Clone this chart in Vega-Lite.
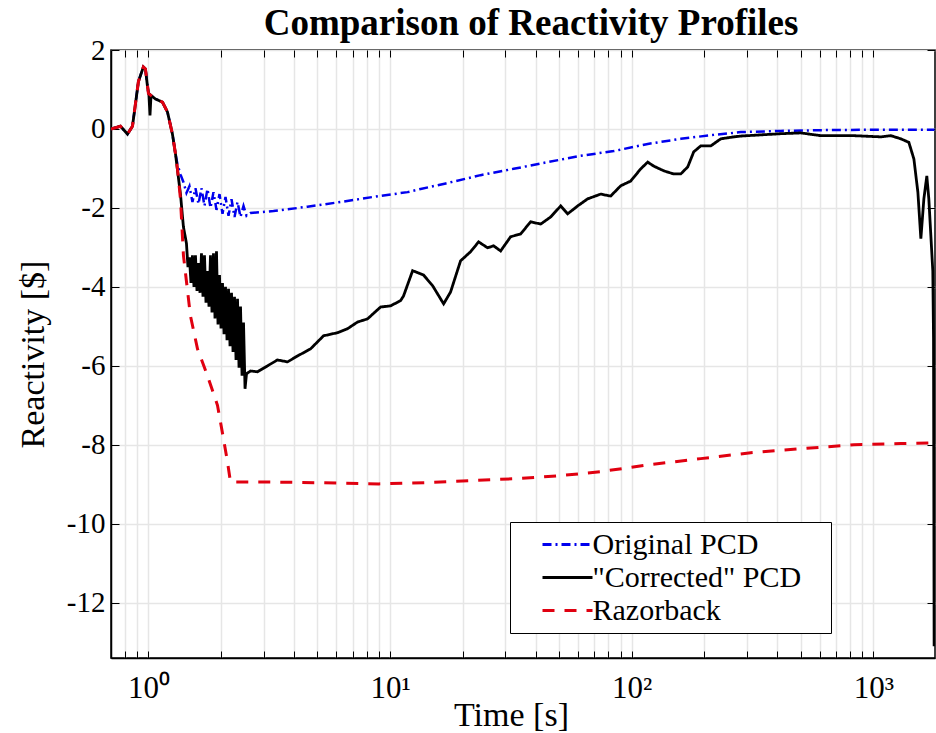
{
 "$schema": "https://vega.github.io/schema/vega-lite/v6.json",
 "width": 824, "height": 608,
 "autosize": {"type": "none"},
 "padding": {"left": 111, "top": 50, "right": 1, "bottom": 75},
 "background": "white",
 "title": {"text": "Comparison of Reactivity Profiles", "font": "Liberation Serif", "fontSize": 37, "fontWeight": "bold", "color": "black", "offset": 10, "dx": 8, "dy": 17},
 "config": {"view": {"stroke": "black", "strokeWidth": 1.5}},
 "datasets": {
  "o": [
   {"t":0.7,"r":0},{"t":0.766,"r":0.07},{"t":0.819,"r":-0.13},{"t":0.859,"r":0.07},{"t":0.909,"r":1.2},{"t":0.953,"r":1.57},{"t":0.972,"r":1.52},{"t":1.0,"r":0.9},{"t":1.069,"r":0.76},{"t":1.143,"r":0.68},{"t":1.199,"r":0.43},{"t":1.257,"r":-0.13},{"t":1.294,"r":-0.63},{"t":1.318,"r":-0.89},{"t":1.357,"r":-1.15},{"t":1.3964,"r":-1.35},{"t":1.4368,"r":-1.62},{"t":1.4785,"r":-1.45},{"t":1.5214,"r":-1.85},{"t":1.5656,"r":-1.5},{"t":1.6111,"r":-1.9},{"t":1.6578,"r":-1.5},{"t":1.706,"r":-1.95},{"t":1.7555,"r":-1.52},{"t":1.8065,"r":-2.0},{"t":1.8589,"r":-1.6},{"t":1.9129,"r":-2.05},{"t":1.9684,"r":-1.65},{"t":2.0256,"r":-2.15},{"t":2.0844,"r":-1.72},{"t":2.1449,"r":-2.2},{"t":2.2072,"r":-1.78},{"t":2.2713,"r":-2.23},{"t":2.3372,"r":-1.85},{"t":2.4051,"r":-2.23},{"t":2.4749,"r":-1.95},{"t":2.5468,"r":-2.2},{"t":2.645,"r":-2.13},{"t":3.293,"r":-2.08},{"t":4.553,"r":-1.97},{"t":6.237,"r":-1.85},{"t":8.547,"r":-1.72},{"t":11.82,"r":-1.6},{"t":13.38,"r":-1.52},{"t":17.0,"r":-1.38},{"t":23.7,"r":-1.17},{"t":32.47,"r":-1.01},{"t":44.89,"r":-0.84},{"t":61.49,"r":-0.68},{"t":84.24,"r":-0.56},{"t":116.5,"r":-0.38},{"t":159.6,"r":-0.25},{"t":218.6,"r":-0.15},{"t":282.7,"r":-0.08},{"t":414,"r":-0.05},{"t":606,"r":-0.03},{"t":976,"r":-0.02},{"t":1790,"r":-0.02}
  ],
  "c": [
   {"t":0.7,"r":0},{"t":0.766,"r":0.07},{"t":0.819,"r":-0.13},{"t":0.859,"r":0.07},{"t":0.909,"r":1.2},{"t":0.953,"r":1.57},{"t":0.972,"r":1.52},{"t":0.99,"r":1.1},{"t":1.005,"r":0.85},{"t":1.015,"r":0.34},{"t":1.025,"r":0.85},{"t":1.069,"r":0.76},{"t":1.143,"r":0.68},{"t":1.199,"r":0.43},{"t":1.257,"r":-0.13},{"t":1.294,"r":-0.63},{"t":1.357,"r":-1.65},{"t":1.396,"r":-2.48},
   {"t":1.4368,"r":-2.9},{"t":1.4575,"r":-3.5},{"t":1.4785,"r":-3.25},{"t":1.4998,"r":-3.9},{"t":1.5214,"r":-3.2},{"t":1.5433,"r":-4.0},{"t":1.5656,"r":-3.2},{"t":1.5882,"r":-4.1},{"t":1.6111,"r":-3.4},{"t":1.6343,"r":-4.15},{"t":1.6578,"r":-3.15},{"t":1.6817,"r":-4.25},{"t":1.706,"r":-3.2},{"t":1.7306,"r":-4.4},{"t":1.7555,"r":-3.6},{"t":1.7808,"r":-4.5},{"t":1.8065,"r":-3.2},{"t":1.8325,"r":-4.65},{"t":1.8589,"r":-3.15},{"t":1.8857,"r":-4.8},{"t":1.9129,"r":-3.1},{"t":1.9405,"r":-4.95},{"t":1.9684,"r":-3.7},{"t":1.9968,"r":-5.05},{"t":2.0256,"r":-3.9},{"t":2.0548,"r":-5.2},{"t":2.0844,"r":-4.0},{"t":2.1144,"r":-5.35},{"t":2.1449,"r":-4.05},{"t":2.1758,"r":-5.5},{"t":2.2072,"r":-4.15},{"t":2.239,"r":-5.65},{"t":2.2713,"r":-4.25},{"t":2.304,"r":-5.85},{"t":2.3372,"r":-4.3},{"t":2.3709,"r":-6.05},{"t":2.4051,"r":-4.5},{"t":2.4398,"r":-6.25},{"t":2.4749,"r":-4.9},{"t":2.5106,"r":-6.58},{"t":2.5468,"r":-6.2},
   {"t":2.645,"r":-6.13},{"t":2.827,"r":-6.15},{"t":3.11,"r":-6.0},{"t":3.421,"r":-5.85},{"t":3.763,"r":-5.9},{"t":4.14,"r":-5.75},{"t":4.688,"r":-5.57},{"t":5.304,"r":-5.24},{"t":6.062,"r":-5.16},{"t":6.668,"r":-5.06},{"t":7.336,"r":-4.89},{"t":8.069,"r":-4.81},{"t":9.135,"r":-4.51},{"t":10.05,"r":-4.48},{"t":11.05,"r":-4.35},{"t":11.37,"r":-4.23},{"t":12.4,"r":-3.59},{"t":13.76,"r":-3.7},{"t":15.0,"r":-3.97},{"t":16.66,"r":-4.43},{"t":17.8,"r":-4.13},{"t":19.58,"r":-3.34},{"t":21.54,"r":-3.11},{"t":23.25,"r":-2.86},{"t":25.33,"r":-3.01},{"t":26.83,"r":-2.96},{"t":28.68,"r":-3.09},{"t":31.55,"r":-2.73},{"t":34.71,"r":-2.66},{"t":38.18,"r":-2.35},{"t":42.01,"r":-2.41},{"t":46.19,"r":-2.23},{"t":50.82,"r":-1.95},{"t":54.33,"r":-2.15},{"t":59.77,"r":-1.95},{"t":65.74,"r":-1.77},{"t":74.4,"r":-1.65},{"t":81.85,"r":-1.7},{"t":90.05,"r":-1.44},{"t":99.06,"r":-1.32},{"t":109.0,"r":-1.01},{"t":116.5,"r":-0.84},{"t":123.3,"r":-0.94},{"t":135.7,"r":-1.06},{"t":149.2,"r":-1.14},{"t":159.6,"r":-1.14},{"t":170.6,"r":-0.96},{"t":180.6,"r":-0.58},{"t":193.1,"r":-0.43},{"t":212.4,"r":-0.43},{"t":233.7,"r":-0.25},{"t":264.5,"r":-0.2},{"t":282.7,"r":-0.18},{"t":342.1,"r":-0.15},{"t":414.0,"r":-0.12},{"t":501.1,"r":-0.1},{"t":606.2,"r":-0.17},{"t":830.7,"r":-0.17},{"t":1074,"r":-0.2},{"t":1182,"r":-0.17},{"t":1300,"r":-0.25},{"t":1403,"r":-0.34},{"t":1472,"r":-0.76},{"t":1529,"r":-1.6},{"t":1573,"r":-2.78},{"t":1619,"r":-1.77},{"t":1665,"r":-1.19},{"t":1697,"r":-1.77},{"t":1763,"r":-3.6},{"t":1775,"r":-5.3},{"t":1785,"r":-13.1}
  ],
  "z": [
   {"t":0.7,"r":0},{"t":0.766,"r":0.07},{"t":0.819,"r":-0.13},{"t":0.859,"r":0.07},{"t":0.909,"r":1.2},{"t":0.953,"r":1.57},{"t":0.972,"r":1.52},{"t":1.0,"r":0.9},{"t":1.069,"r":0.76},{"t":1.143,"r":0.68},{"t":1.199,"r":0.43},{"t":1.257,"r":-0.13},{"t":1.294,"r":-0.63},{"t":1.318,"r":-1.0},{"t":1.357,"r":-1.77},{"t":1.396,"r":-3.2},{"t":1.492,"r":-4.73},{"t":1.596,"r":-5.57},{"t":1.755,"r":-6.25},{"t":1.931,"r":-7.0},{"t":2.045,"r":-7.85},{"t":2.124,"r":-8.43},{"t":2.185,"r":-8.94},{"t":3.0,"r":-8.94},{"t":5.0,"r":-8.96},{"t":9.0,"r":-8.99},{"t":14.0,"r":-8.96},{"t":32.47,"r":-8.86},{"t":50.8,"r":-8.78},{"t":74.4,"r":-8.68},{"t":119.8,"r":-8.5},{"t":193,"r":-8.35},{"t":311,"r":-8.2},{"t":501,"r":-8.1},{"t":831,"r":-8.0},{"t":1300,"r":-7.97},{"t":1790,"r":-7.95}
  ]
 },
 "resolve": {"axis": {"x": "independent", "y": "independent"}},
 "layer": [
  {
   "data": {"name": "o"},
   "transform": [{"calculate": "'Original PCD'", "as": "s"}],
   "mark": {"type": "line", "strokeWidth": 2.5, "clip": true},
   "encoding": {
    "x": {"field": "t", "type": "quantitative", "scale": {"type": "log", "domain": [0.7, 1800], "nice": false},
     "axis": {"orient": "bottom", "values": [0.8,0.9,1,2,3,4,5,6,7,8,9,10,20,30,40,50,60,70,80,90,100,200,300,400,500,600,700,800,900,1000],
      "labelExpr": "datum.value==1?'10⁰':datum.value==10?'10¹':datum.value==100?'10²':datum.value==1000?'10³':''",
      "title": "Time [s]", "titleFont": "Liberation Serif", "titleFontSize": 34, "titleFontWeight": "normal", "titleColor": "black", "titleY": 67, "titleX": 400, "titleBaseline": "alphabetic",
      "labelFont": "Liberation Serif", "labelFontSize": 31, "labelColor": "black", "labelPadding": 22, "labelOverlap": false, "labelFlush": false,
      "tickSize": -7, "tickColor": "black", "tickWidth": 1, "domainColor": "black", "domainWidth": 1.5,
      "grid": true, "gridColor": "#e6e6e6", "gridWidth": 1.5}},
    "y": {"field": "r", "type": "quantitative", "scale": {"domain": [-13.4, 2], "nice": false, "zero": false},
     "axis": {"orient": "left", "values": [-12,-10,-8,-6,-4,-2,0,2], "labelExpr": "''+datum.value",
      "title": "Reactivity [$]", "titleFont": "Liberation Serif", "titleFontSize": 34, "titleFontWeight": "normal", "titleColor": "black", "titleX": -68, "titleBaseline": "alphabetic",
      "labelFont": "Liberation Serif", "labelFontSize": 29, "labelColor": "black", "labelPadding": 14,
      "tickSize": -8, "tickColor": "black", "domainColor": "black", "domainWidth": 1.5,
      "grid": true, "gridColor": "#e6e6e6", "gridWidth": 1.5}},
    "color": {"field": "s", "type": "nominal", "scale": {"domain": ["Original PCD", "\"Corrected\" PCD", "Razorback"], "range": ["#0000ee", "#000000", "#e00010"]},
     "legend": {"orient": "none", "legendX": 399, "legendY": 472, "title": null, "symbolType": "M-2.5,0H2.5", "symbolSize": 400, "symbolStrokeWidth": 3, "labelFont": "Liberation Serif", "labelFontSize": 30, "labelColor": "black", "labelLimit": 400, "labelExpr": "datum.label + '\u2800'", "strokeColor": "black", "fillColor": "white", "padding": 7.5, "symbolOffset": 35, "labelOffset": 10, "rowPadding": 3}},
    "strokeDash": {"field": "s", "type": "nominal", "scale": {"domain": ["Original PCD", "\"Corrected\" PCD", "Razorback"], "range": [[9,4,2,4],[1,0],[12,10]]},
     "legend": {"orient": "none", "legendX": 399, "legendY": 472, "title": null, "symbolType": "M-2.5,0H2.5", "symbolSize": 400, "symbolStrokeWidth": 3, "labelFont": "Liberation Serif", "labelFontSize": 30, "labelColor": "black", "labelLimit": 400, "labelExpr": "datum.label + '\u2800'", "strokeColor": "black", "fillColor": "white", "padding": 7.5, "symbolOffset": 35, "labelOffset": 10, "rowPadding": 3}}
   }
  },
  {
   "data": {"name": "c"},
   "transform": [{"calculate": "'\"Corrected\" PCD'", "as": "s"}],
   "mark": {"type": "line", "strokeWidth": 2.8, "clip": true},
   "encoding": {
    "x": {"field": "t", "type": "quantitative", "axis": null},
    "y": {"field": "r", "type": "quantitative", "axis": null},
    "color": {"field": "s", "type": "nominal"},
    "strokeDash": {"field": "s", "type": "nominal"}
   }
  },
  {
   "data": {"name": "z"},
   "transform": [{"calculate": "'Razorback'", "as": "s"}],
   "mark": {"type": "line", "strokeWidth": 3, "clip": true},
   "encoding": {
    "x": {"field": "t", "type": "quantitative", "axis": null},
    "y": {"field": "r", "type": "quantitative", "axis": null},
    "color": {"field": "s", "type": "nominal"},
    "strokeDash": {"field": "s", "type": "nominal"}
   }
  },
  {
   "data": {"name": "z"},
   "mark": {"type": "line", "opacity": 0},
   "encoding": {
    "x": {"field": "t", "type": "quantitative",
     "axis": {"orient": "top", "values": [0.8,0.9,1,2,3,4,5,6,7,8,9,10,20,30,40,50,60,70,80,90,100,200,300,400,500,600,700,800,900,1000], "labels": false, "title": null, "grid": false, "domain": false, "tickSize": -7, "tickColor": "black"}},
    "y": {"field": "r", "type": "quantitative",
     "axis": {"orient": "right", "values": [-12,-10,-8,-6,-4,-2,0,2], "labels": false, "title": null, "grid": false, "domain": false, "tickSize": -8, "tickColor": "black"}}
   }
  }
 ]
}
